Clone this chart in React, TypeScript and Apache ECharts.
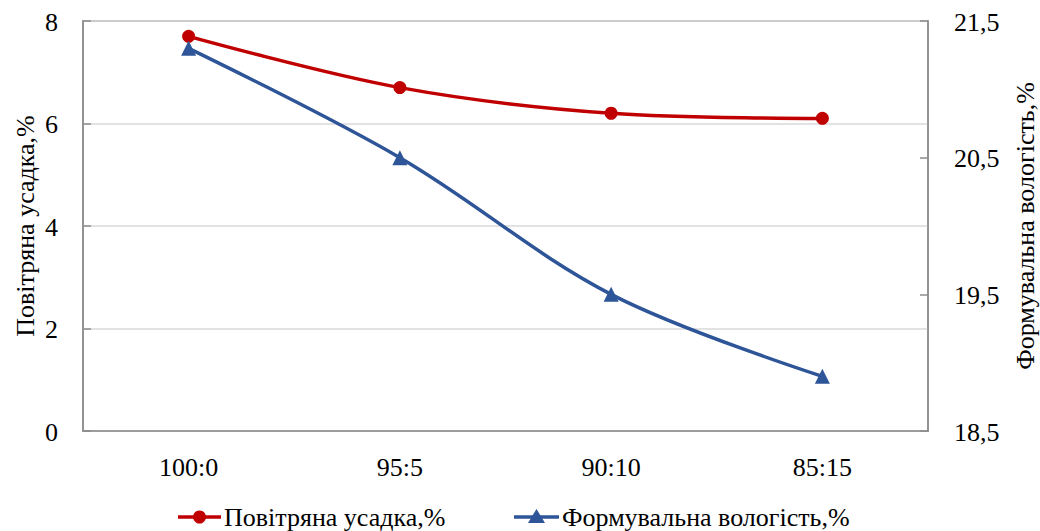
import React, { useEffect, useRef } from "react";
import * as echarts from "echarts";

const categories = ["100:0", "95:5", "90:10", "85:15"];
const shrinkage = [7.7, 6.7, 6.2, 6.1];
const moisture = [21.3, 20.5, 19.5, 18.9];
const leftTicks = [0, 2, 4, 6, 8];
const rightTicks = [18.5, 19.5, 20.5, 21.5];
const leftName = "Повітряна усадка,%";
const rightName = "Формувальна вологість,%";

const FONT = "Liberation Serif";
const RED = "#C00000";
const BLUE = "#2E5597";
const AXIS = "#8c8c8c";

const fmt = (v: number) => String(v).replace(".", ",");

export default function App() {
  const ref = useRef<HTMLDivElement>(null);
  useEffect(() => {
    document.body.style.margin = "0";
    const chart = echarts.init(ref.current!, undefined, { renderer: "svg" });
    chart.setOption({
      animation: false,
      grid: {
        left: 83,
        right: 112,
        top: 21,
        bottom: 100,
        show: true,
        borderColor: AXIS,
        borderWidth: 1.5,
        containLabel: false,
      },
      xAxis: {
        type: "category",
        data: categories,
        boundaryGap: true,
        axisLine: { lineStyle: { color: AXIS, width: 1.5 } },
        axisTick: { alignWithLabel: true, inside: true, length: 6, lineStyle: { color: AXIS, width: 1.5 } },
        axisLabel: { show: false },
        splitLine: { show: false },
      },
      yAxis: [
        {
          type: "value",
          min: 0,
          max: 8,
          interval: 2,
          axisLine: { show: true, lineStyle: { color: AXIS, width: 1.5 } },
          axisTick: { show: true, inside: true, length: 8, lineStyle: { color: AXIS, width: 1.5 } },
          axisLabel: { show: false },
          splitLine: { show: true, lineStyle: { color: "#d9d9d9", width: 1.5 } },
        },
        {
          type: "value",
          min: 18.5,
          max: 21.5,
          position: "right",
          axisLine: { show: true, lineStyle: { color: AXIS, width: 1.5 } },
          axisTick: {
            show: true,
            inside: true,
            length: 8,
            customValues: rightTicks,
            lineStyle: { color: AXIS, width: 1.5 },
          },
          axisLabel: { show: false },
          splitLine: { show: false },
        },
      ],
      series: [
        {
          name: leftName,
          type: "line",
          yAxisIndex: 0,
          data: shrinkage,
          smooth: 0.35,
          symbol: "circle",
          symbolSize: 13,
          lineStyle: { color: RED, width: 3.5 },
          itemStyle: { color: RED },
        },
        {
          name: rightName,
          type: "line",
          yAxisIndex: 1,
          data: moisture,
          smooth: 0.35,
          symbol: "triangle",
          symbolSize: 15,
          lineStyle: { color: BLUE, width: 3.5 },
          itemStyle: { color: BLUE },
        },
      ],
    });

    const text = (s: string, x: number, y: number, align: string, extra: any = {}) => ({
      type: "text",
      x,
      y,
      silent: true,
      ...extra,
      style: {
        text: s,
        fontFamily: FONT,
        fontSize: 26,
        fill: "#000",
        align,
        verticalAlign: "middle",
      },
    });

    const g: any[] = [];
    const bottomY = chart.convertToPixel({ yAxisIndex: 0 }, 0) as number;
    const topY = chart.convertToPixel({ yAxisIndex: 0 }, 8) as number;
    const leftX = 83;
    const rightX = 1040 - 112;
    categories.forEach((c) => {
      const x = chart.convertToPixel({ xAxisIndex: 0 }, c) as number;
      g.push(text(c, x, bottomY + 36, "center"));
    });
    leftTicks.forEach((v) => {
      const y = chart.convertToPixel({ yAxisIndex: 0 }, v) as number;
      g.push(text(fmt(v), leftX - 25, y + 1, "right"));
    });
    rightTicks.forEach((v) => {
      const y = chart.convertToPixel({ yAxisIndex: 1 }, v) as number;
      g.push(text(v.toFixed(1).replace(".", ","), rightX + 26, y + 1, "left"));
    });
    const midY = (bottomY + topY) / 2;
    g.push(text(leftName, 25, midY, "center", { rotation: Math.PI / 2 }));
    g.push(text(rightName, 1025, midY, "center", { rotation: Math.PI / 2 }));

    // legend
    const ly = 517;
    g.push({ type: "line", silent: true, shape: { x1: 178, y1: ly, x2: 221, y2: ly }, style: { stroke: RED, lineWidth: 3.5 } });
    g.push({ type: "circle", silent: true, shape: { cx: 199.5, cy: ly, r: 6.5 }, style: { fill: RED } });
    g.push(text(leftName, 224, ly, "left"));
    g.push({ type: "line", silent: true, shape: { x1: 514, y1: ly, x2: 559, y2: ly }, style: { stroke: BLUE, lineWidth: 3.5 } });
    g.push({
      type: "polygon",
      silent: true,
      shape: { points: [[536.5, ly - 8], [528, ly + 6], [545, ly + 6]] },
      style: { fill: BLUE },
    });
    g.push(text(rightName, 562, ly, "left"));

    chart.setOption({ graphic: g });
    return () => chart.dispose();
  }, []);
  return <div ref={ref} style={{ width: 1040, height: 531 }} />;
}
